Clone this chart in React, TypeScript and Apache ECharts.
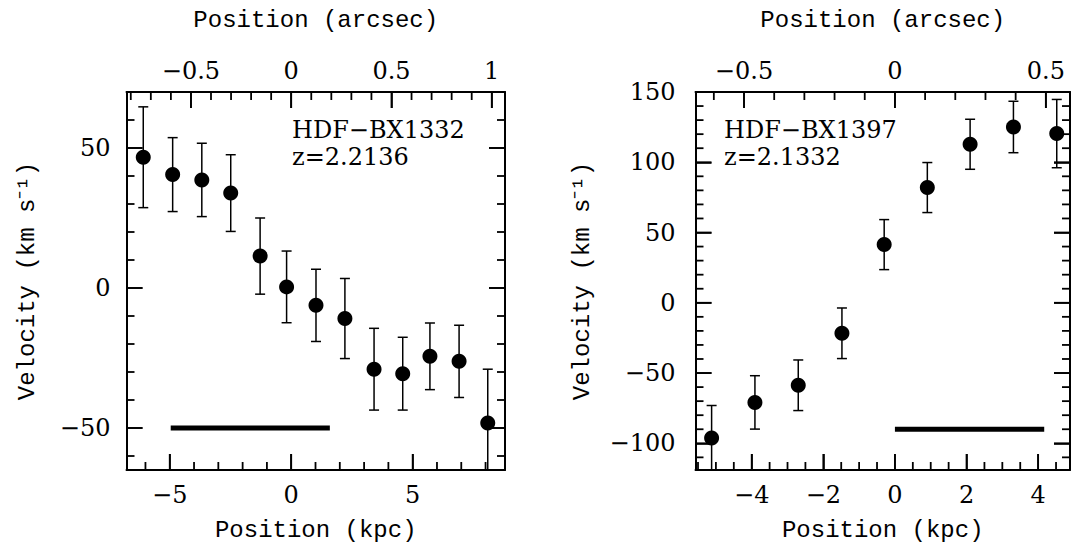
import React, { useEffect, useRef } from "react";
import * as echarts from "echarts";

// ---------- Data ----------
// Left panel: HDF-BX1332
const LEFT_POS_KPC = [-6.09, -4.88, -3.68, -2.49, -1.28, -0.19, 1.02, 2.21, 3.41, 4.59, 5.71, 6.91, 8.09];
const LEFT_VEL = [46.7, 40.5, 38.6, 33.9, 11.4, 0.4, -6.2, -10.9, -29.0, -30.6, -24.4, -26.2, -48.2];
const LEFT_ERR = [18.0, 13.2, 13.1, 13.7, 13.6, 12.8, 12.9, 14.3, 14.6, 13.0, 11.9, 12.9, 19.2];
const LEFT_BAR_KPC = [-4.96, 1.59];
const LEFT_BAR_VEL = -50;
const LEFT_NAME = "HDF\u2212BX1332";
const LEFT_Z = "z=2.2136";

// Right panel: HDF-BX1397
const RIGHT_POS_KPC = [-5.12, -3.91, -2.7, -1.48, -0.3, 0.905, 2.1, 3.31, 4.52];
const RIGHT_VEL = [-96.2, -70.9, -58.7, -21.7, 41.4, 82.0, 112.8, 125.1, 120.4];
const RIGHT_ERR = [23.1, 19.0, 18.0, 18.0, 17.8, 17.8, 17.8, 18.3, 24.3];
const RIGHT_BAR_KPC = [0, 4.17];
const RIGHT_BAR_VEL = -90;
const RIGHT_NAME = "HDF\u2212BX1397";
const RIGHT_Z = "z=2.1332";

// Axis ranges & ticks
const LEFT_X_RANGE = [-6.78, 8.8];
const LEFT_Y_RANGE = [-65, 70];
const LEFT_KPC_PER_ARCSEC = 8.255;
const LEFT_X_MAJOR = [-5, 0, 5];
const LEFT_X_MINOR = [-6, -4, -3, -2, -1, 1, 2, 3, 4, 6, 7, 8];
const LEFT_TOP_MAJOR = [-0.5, 0, 0.5, 1];
const LEFT_TOP_MINOR = [-0.8, -0.7, -0.6, -0.4, -0.3, -0.2, -0.1, 0.1, 0.2, 0.3, 0.4, 0.6, 0.7, 0.8, 0.9];
const LEFT_Y_MAJOR = [-50, 0, 50];
const LEFT_Y_MINOR = [-60, -40, -30, -20, -10, 10, 20, 30, 40, 60];

const RIGHT_X_RANGE = [-5.57, 4.89];
const RIGHT_Y_RANGE = [-119, 150];
const RIGHT_KPC_PER_ARCSEC = 8.43;
const RIGHT_X_MAJOR = [-4, -2, 0, 2, 4];
const RIGHT_X_MINOR = [-5.5, -5, -4.5, -3.5, -3, -2.5, -1.5, -1, -0.5, 0.5, 1, 1.5, 2.5, 3, 3.5, 4.5];
const RIGHT_TOP_MAJOR = [-0.5, 0, 0.5];
const RIGHT_TOP_MINOR = [-0.6, -0.4, -0.3, -0.2, -0.1, 0.1, 0.2, 0.3, 0.4];
const RIGHT_Y_MAJOR = [-100, -50, 0, 50, 100, 150];
const RIGHT_Y_MINOR = [-110, -90, -80, -70, -60, -40, -30, -20, -10, 10, 20, 30, 40, 60, 70, 80, 90, 110, 120, 130, 140];

const X_NAME = "Position (kpc)";
const TOP_NAME = "Position (arcsec)";
const Y_NAME = "Velocity (km s\u207B\u00B9)";

// ---------- Layout / styling ----------
const FONT = "DejaVu Serif";
const NAME_FONT = "Liberation Mono";
const BLACK = "#000";
const MAJOR_LEN = 16;
const MINOR_LEN = 8;

const fmt = (v: number) => {
  const s = String(Math.round(v * 1000) / 1000);
  return s.replace("-", "\u2212");
};

type PanelCfg = {
  grid: number;
  xRange: number[];
  yRange: number[];
  kpa: number;
  xMajor: number[];
  topMajor: number[];
  yMajor: number[];
  yNameGap: number;
  yLabelMargin: number;
};

// axes per panel: x[0]=bottom kpc, x[1]=top arcsec; y[0]=left, y[1]=right
function buildAxes(c: PanelCfg) {
  const labelStyle = { fontFamily: FONT, fontSize: 24, color: BLACK };
  const nameStyle = { fontFamily: NAME_FONT, fontSize: 24, color: BLACK };
  const line = { show: true, onZero: false, lineStyle: { color: BLACK, width: 2 } };
  const tick = (vals: number[]) => ({
    show: true, inside: true, length: MAJOR_LEN, customValues: vals,
    lineStyle: { color: BLACK, width: 1.6 },
  });
  const xs: any[] = [
    {
      type: "value", gridIndex: c.grid, position: "bottom",
      min: c.xRange[0], max: c.xRange[1],
      axisLine: line, axisTick: tick(c.xMajor),
      axisLabel: { show: true, customValues: c.xMajor, formatter: fmt, margin: 13, ...labelStyle },
      splitLine: { show: false },
      name: X_NAME, nameLocation: "middle", nameGap: 48, nameTextStyle: nameStyle,
    },
    {
      type: "value", gridIndex: c.grid, position: "top",
      min: c.xRange[0] / c.kpa, max: c.xRange[1] / c.kpa,
      axisLine: line, axisTick: tick(c.topMajor),
      axisLabel: { show: true, customValues: c.topMajor, formatter: fmt, margin: 9, ...labelStyle },
      splitLine: { show: false },
      name: TOP_NAME, nameLocation: "middle", nameGap: 60, nameTextStyle: nameStyle,
    },
  ];
  const ys: any[] = [
    {
      type: "value", gridIndex: c.grid, position: "left",
      min: c.yRange[0], max: c.yRange[1],
      axisLine: line, axisTick: tick(c.yMajor),
      axisLabel: { show: true, customValues: c.yMajor, formatter: fmt, margin: c.yLabelMargin, ...labelStyle },
      splitLine: { show: false },
      name: Y_NAME, nameLocation: "middle", nameGap: c.yNameGap, nameTextStyle: nameStyle,
    },
    {
      type: "value", gridIndex: c.grid, position: "right",
      min: c.yRange[0], max: c.yRange[1],
      axisLine: line, axisTick: tick(c.yMajor),
      axisLabel: { show: false }, splitLine: { show: false },
    },
  ];
  return { xs, ys };
}

function buildSeries(
  xIdx: number, yIdx: number, yRange: number[],
  pos: number[], vel: number[], err: number[],
  barKpc: number[], barVel: number
) {
  const errData = pos.map((p, i) => [p, vel[i] - err[i], vel[i] + err[i]]);
  const ptData = pos.map((p, i) => [p, vel[i]]);
  const barData = barKpc.map((k) => [k, barVel]);
  return [
    {
      type: "custom",
      xAxisIndex: xIdx, yAxisIndex: yIdx,
      data: errData,
      encode: { x: 0, y: [1, 2] },
      renderItem: (_p: any, api: any) => {
        const stroke = { stroke: BLACK, lineWidth: 1.5 };
        const x = api.value(0);
        const lo = api.value(1);
        const hi = api.value(2);
        const loC = Math.max(lo, yRange[0]);
        const hiC = Math.min(hi, yRange[1]);
        const a = api.coord([x, loC]);
        const b = api.coord([x, hiC]);
        const w = 5;
        const children: any[] = [
          { type: "line", shape: { x1: a[0], y1: a[1], x2: b[0], y2: b[1] }, style: stroke },
        ];
        if (lo >= yRange[0]) children.push({ type: "line", shape: { x1: a[0] - w, y1: a[1], x2: a[0] + w, y2: a[1] }, style: { ...stroke } });
        if (hi <= yRange[1]) children.push({ type: "line", shape: { x1: b[0] - w, y1: b[1], x2: b[0] + w, y2: b[1] }, style: { ...stroke } });
        return { type: "group", children };
      },
      z: 2,
    },
    {
      type: "scatter",
      xAxisIndex: xIdx, yAxisIndex: yIdx,
      data: ptData,
      symbol: "circle",
      symbolSize: 15,
      itemStyle: { color: BLACK, opacity: 1 },
      z: 3,
    },
    {
      type: "line",
      xAxisIndex: xIdx, yAxisIndex: yIdx,
      data: barData,
      symbol: "none",
      lineStyle: { color: BLACK, width: 5 },
      z: 3,
    },
  ];
}

// Inward tick marks for one panel, placed through the axis scale (api.coord)
function tickSeries(
  xIdx: number, yIdx: number, xRange: number[], yRange: number[], kpa: number,
  xMajor: number[], xMinor: number[], topMajor: number[], topMinor: number[],
  yMajor: number[], yMinor: number[]
) {
  const mid = [(xRange[0] + xRange[1]) / 2, (yRange[0] + yRange[1]) / 2];
  return {
    type: "custom",
    xAxisIndex: xIdx, yAxisIndex: yIdx,
    data: [mid],
    encode: { x: 0, y: 1 },
    silent: true,
    renderItem: (_p: any, api: any) => {
      const children: any[] = [];
      const seg = (x1: number, y1: number, x2: number, y2: number) =>
        children.push({
          type: "rect",
          shape: {
            x: Math.min(x1, x2) - (x1 === x2 ? 0.9 : 0),
            y: Math.min(y1, y2) - (y1 === y2 ? 0.9 : 0),
            width: x1 === x2 ? 1.8 : Math.abs(x2 - x1),
            height: y1 === y2 ? 1.8 : Math.abs(y2 - y1),
          },
          style: { fill: BLACK },
        });
      const yb = api.coord([xRange[0], yRange[0]])[1];
      const yt = api.coord([xRange[0], yRange[1]])[1];
      const xl = api.coord([xRange[0], yRange[0]])[0];
      const xr = api.coord([xRange[1], yRange[0]])[0];
      const xs = (v: number) => api.coord([v, yRange[0]])[0];
      const ys = (v: number) => api.coord([xRange[0], v])[1];
      xMajor.forEach((v) => seg(xs(v), yb, xs(v), yb - MAJOR_LEN));
      xMinor.forEach((v) => seg(xs(v), yb, xs(v), yb - MINOR_LEN));
      topMajor.forEach((v) => seg(xs(v * kpa), yt, xs(v * kpa), yt + MAJOR_LEN));
      topMinor.forEach((v) => seg(xs(v * kpa), yt, xs(v * kpa), yt + MINOR_LEN));
      yMajor.forEach((v) => {
        seg(xl, ys(v), xl + MAJOR_LEN, ys(v));
        seg(xr, ys(v), xr - MAJOR_LEN, ys(v));
      });
      yMinor.forEach((v) => {
        seg(xl, ys(v), xl + MINOR_LEN, ys(v));
        seg(xr, ys(v), xr - MINOR_LEN, ys(v));
      });
      return { type: "group", children };
    },
    z: 10,
  };
}

export default function App() {
  const ref = useRef<HTMLDivElement>(null);
  useEffect(() => {
    if (!ref.current) return;
    const chart = echarts.init(ref.current, undefined, { renderer: "svg" });
    const left = buildAxes({
      grid: 0, xRange: LEFT_X_RANGE, yRange: LEFT_Y_RANGE, kpa: LEFT_KPC_PER_ARCSEC,
      xMajor: LEFT_X_MAJOR, topMajor: LEFT_TOP_MAJOR, yMajor: LEFT_Y_MAJOR,
      yNameGap: 87, yLabelMargin: 16,
    });
    const right = buildAxes({
      grid: 1, xRange: RIGHT_X_RANGE, yRange: RIGHT_Y_RANGE, kpa: RIGHT_KPC_PER_ARCSEC,
      xMajor: RIGHT_X_MAJOR, topMajor: RIGHT_TOP_MAJOR, yMajor: RIGHT_Y_MAJOR,
      yNameGap: 101, yLabelMargin: 20,
    });
    const textStyle = { fontFamily: FONT, fontSize: 24, fill: BLACK };
    chart.setOption({
      animation: false,
      backgroundColor: "#fff",
      grid: [
        { left: 126.5, top: 92, width: 378.5, height: 378, containLabel: false },
        { left: 695.5, top: 92, width: 374.5, height: 378, containLabel: false },
      ],
      xAxis: [...left.xs, ...right.xs],
      yAxis: [...left.ys, ...right.ys],
      series: [
        ...buildSeries(0, 0, LEFT_Y_RANGE, LEFT_POS_KPC, LEFT_VEL, LEFT_ERR, LEFT_BAR_KPC, LEFT_BAR_VEL),
        ...buildSeries(2, 2, RIGHT_Y_RANGE, RIGHT_POS_KPC, RIGHT_VEL, RIGHT_ERR, RIGHT_BAR_KPC, RIGHT_BAR_VEL),
        tickSeries(0, 0, LEFT_X_RANGE, LEFT_Y_RANGE, LEFT_KPC_PER_ARCSEC,
          LEFT_X_MAJOR, LEFT_X_MINOR, LEFT_TOP_MAJOR, LEFT_TOP_MINOR, LEFT_Y_MAJOR, LEFT_Y_MINOR),
        tickSeries(2, 2, RIGHT_X_RANGE, RIGHT_Y_RANGE, RIGHT_KPC_PER_ARCSEC,
          RIGHT_X_MAJOR, RIGHT_X_MINOR, RIGHT_TOP_MAJOR, RIGHT_TOP_MINOR, RIGHT_Y_MAJOR, RIGHT_Y_MINOR),
      ],
      graphic: [
        { type: "text", left: 292, top: 118, style: { text: LEFT_NAME, ...textStyle } },
        { type: "text", left: 292, top: 145, style: { text: LEFT_Z, ...textStyle } },
        { type: "text", left: 724, top: 118, style: { text: RIGHT_NAME, ...textStyle } },
        { type: "text", left: 724, top: 145, style: { text: RIGHT_Z, ...textStyle } },
      ],
    });
    return () => chart.dispose();
  }, []);
  return (
    <div
      ref={ref}
      style={{ position: "fixed", left: 0, top: 0, width: 1074, height: 552, background: "#fff" }}
    />
  );
}
